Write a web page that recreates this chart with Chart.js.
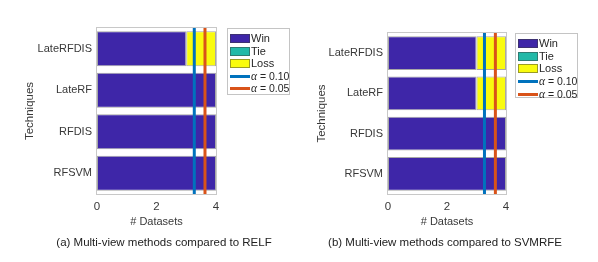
<!DOCTYPE html>
<html>
<head>
<meta charset="utf-8">
<script src="https://cdn.jsdelivr.net/npm/chart.js@4/dist/chart.umd.min.js"></script>
<style>
body { margin: 0; background: #fff; font-family: "Liberation Sans", Arial, sans-serif; }
#wrap { position: relative; width: 598px; height: 262px; overflow: hidden; }
canvas { position: absolute; }
.cap { position: absolute; font-size: 11.5px; color: #222; white-space: nowrap; transform: translateX(-50%); }
.legend { position: absolute; border: 1px solid #c4c4c4; background: #fff; font-size: 11px; color: #262626; box-sizing: border-box; }
.row { position: absolute; left: 2px; height: 13px; line-height: 13px; white-space: nowrap; }
.sw { position: absolute; left: 0; width: 20px; box-sizing: border-box; }
.txt { position: absolute; left: 21px; top: 0; }
.num { font-size: 10.5px; }
.al { font-family: "Liberation Serif", serif; font-style: italic; font-size: 11.5px; }
</style>
</head>
<body>
<div id="wrap">
  <canvas id="chartA" width="300" height="240" style="left:0;top:0;width:300px;height:240px"></canvas>
  <canvas id="chartB" width="298" height="240" style="left:300px;top:0;width:298px;height:240px"></canvas>
  <div class="cap" style="left:164px;top:236px">(a) Multi-view methods compared to RELF</div>
  <div class="cap" style="left:445px;top:236px">(b) Multi-view methods compared to SVMRFE</div>
  <div id="legA" class="legend" style="left:227px;top:28px;width:63px;height:67px"></div>
  <div id="legB" class="legend" style="left:515px;top:33px;width:63px;height:65px"></div>
</div>
<script>
const techniques = ['LateRFDIS', 'LateRF', 'RFDIS', 'RFSVM'];
const xTicks = [0, 2, 4];

// (a) compared to RELF
const winA = [3, 4, 4, 4];
const tieA = [0, 0, 0, 0];
const lossA = [1, 0, 0, 0];
const alphaA = [3.27, 3.63];

// (b) compared to SVMRFE
const winB = [3, 3, 4, 4];
const tieB = [0, 0, 0, 0];
const lossB = [1, 1, 0, 0];
const alphaB = [3.27, 3.64];

const alphaLabels = ['0.10', '0.05'];
const alphaColors = ['#0072BD', '#D95319'];
const barColors = ['#3E26A8', '#22B9A8', '#F9FB0E'];

const txt = '#383838';
const font = { family: '"Liberation Sans", Arial, sans-serif', size: 11 };

const extras = {
  id: 'extras',
  afterDatasetsDraw(chart, args, opts) {
    const { ctx, chartArea: a, scales: { x } } = chart;
    ctx.save();
    ctx.strokeStyle = '#c8c8c8';
    ctx.lineWidth = 1;
    ctx.strokeRect(a.left - 0.5, a.top - 0.5, a.width + 1, a.height + 1);
    opts.alphas.forEach((v, i) => {
      const px = x.getPixelForValue(v);
      ctx.strokeStyle = alphaColors[i];
      ctx.lineWidth = 3;
      ctx.beginPath();
      ctx.moveTo(px, a.top);
      ctx.lineTo(px, a.bottom);
      ctx.stroke();
    });
    ctx.restore();
  }
};

function makeChart(id, win, tie, loss, alphas, g) {
  const sets = [['Win', win], ['Tie', tie], ['Loss', loss]].map(([label, data], i) => ({
    label, data,
    backgroundColor: barColors[i],
    borderColor: 'rgba(60,60,60,0.45)',
    borderWidth: c => (c.raw ? 1 : 0),
    borderSkipped: false,
    barPercentage: 0.84,
    categoryPercentage: 1
  }));
  return new Chart(id, {
    type: 'bar',
    data: { labels: techniques, datasets: sets },
    options: {
      indexAxis: 'y',
      responsive: false,
      animation: false,
      layout: { padding: { top: g.top, right: g.right, left: 0, bottom: 0 } },
      plugins: { legend: { display: false }, tooltip: { enabled: false }, extras: { alphas } },
      scales: {
        x: {
          stacked: true, min: 0, max: 4,
          afterBuildTicks: s => { s.ticks = xTicks.map(v => ({ value: v })); },
          afterFit: s => { s.height = 46; },
          grid: { display: false, drawTicks: false },
          border: { display: false },
          ticks: { color: txt, font: { ...font, size: 11.5 }, padding: 6 },
          title: { display: true, text: '# Datasets', color: txt, font, padding: { top: 0, bottom: 11 } }
        },
        y: {
          stacked: true,
          afterFit: s => { s.width = g.left; },
          grid: { display: false, drawTicks: false },
          border: { display: false },
          ticks: { color: txt, font, padding: 5 },
          title: { display: true, text: 'Techniques', color: txt, font: { ...font, size: 11.5 }, padding: { top: g.title, bottom: 0 } }
        }
      }
    },
    plugins: [extras]
  });
}

function makeLegend(el, chart, step) {
  let html = '';
  let y = 3;
  chart.data.datasets.forEach(d => {
    html += `<div class="row" style="top:${y}px"><span class="sw" style="top:2px;height:9px;background:${d.backgroundColor};border:1px solid rgba(60,60,60,0.5)"></span><span class="txt">${d.label}</span></div>`;
    y += step;
  });
  alphaLabels.forEach((l, i) => {
    html += `<div class="row" style="top:${y}px"><span class="sw" style="top:5px;height:3px;background:${alphaColors[i]}"></span><span class="txt"><span class="al">&alpha;</span><span class="num"> = ${l}</span></span></div>`;
    y += step;
  });
  document.getElementById(el).innerHTML = html;
}

const cA = makeChart('chartA', winA, tieA, lossA, alphaA, { top: 28, right: 84, left: 97, title: 22.5 });
const cB = makeChart('chartB', winB, tieB, lossB, alphaB, { top: 33, right: 92, left: 88, title: 15 });
makeLegend('legA', cA, 12.5);
makeLegend('legB', cB, 12.7);
</script>
</body>
</html>
